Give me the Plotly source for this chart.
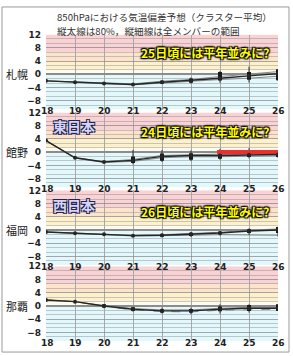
import plotly.graph_objects as go

W, H = 293, 356

dates = [18, 19, 20, 21, 22, 23, 24, 25, 26]
tick_vals = [12, 8, 4, 0, -4, -8]
tick_text = ["12", "8", "4", "0", "−4", "−8"]

stations = ["札幌", "館野", "福岡", "那覇"]

# cluster mean
sapporo_mean = [-2.0, -2.4, -2.8, -3.1, -2.4, -1.9, -1.2, -0.5, 0.2]
tateno_mean = [3.5, -1.7, -3.0, -2.5, -1.3, -1.0, -1.0, -0.8, -0.7]
fukuoka_mean = [-0.6, -1.0, -1.3, -1.7, -1.6, -1.3, -0.9, -0.3, 0.0]
naha_mean = [1.8, 1.3, 0.0, -1.0, -1.5, -1.5, -1.0, -0.7, -0.7]

# 80% range
sapporo_p80_lo = [-2.0, -2.4, -2.8, -3.1, -2.8, -2.6, -1.9, -1.7, -1.8]
sapporo_p80_hi = [-2.0, -2.4, -2.8, -3.1, -2.0, -1.3, 0.7, 0.7, 1.5]
tateno_p80_lo = [3.5, -1.7, -3.0, -3.3, -2.6, -2.3, -2.0, -1.5, -1.5]
tateno_p80_hi = [3.5, -1.7, -3.0, -1.3, -0.4, -0.3, 0.0, -0.1, -0.3]
fukuoka_p80_lo = [-0.6, -1.0, -1.4, -1.9, -2.0, -1.8, -1.3, -0.9, -0.9]
fukuoka_p80_hi = [-0.6, -1.0, -1.2, -1.5, -1.2, -0.8, -0.5, 0.2, 0.9]
naha_p80_lo = [1.8, 1.3, -0.5, -1.5, -2.0, -2.0, -1.6, -1.5, -1.5]
naha_p80_hi = [1.8, 1.3, 0.5, -0.4, -1.0, -0.9, -0.2, 0.3, 0.5]

# full member range
sapporo_lo = [-2.0, -2.5, -2.9, -3.2, -2.9, -2.8, -2.6, -2.5, -2.0]
sapporo_hi = [-2.0, -2.3, -2.7, -2.9, -1.9, -1.0, 1.0, 2.3, 1.6]
tateno_lo = [3.5, -1.8, -3.1, -3.7, -3.0, -2.7, -2.3, -1.9, -1.7]
tateno_hi = [3.5, -1.6, -2.9, 0.7, 0.7, 0.5, 1.0, 1.2, 0.0]
fukuoka_lo = [-0.6, -1.0, -1.5, -2.1, -2.2, -2.1, -1.7, -1.5, -2.0]
fukuoka_hi = [-0.6, -1.0, -1.1, -1.3, -1.0, -0.6, -0.3, 0.5, 1.0]
naha_lo = [1.8, 1.2, -0.7, -1.7, -2.3, -2.5, -2.3, -2.0, -1.5]
naha_hi = [1.8, 1.4, 0.6, -0.3, -0.5, -0.5, 0.5, 0.5, 0.5]

# a couple of member traces
sapporo_m1 = [-2.0, -2.3, -2.7, -2.9, -2.1, -1.6, -0.7, 0.0, 0.8]
sapporo_m2 = [-2.0, -2.5, -2.9, -3.2, -2.6, -2.2, -1.6, -1.2, -0.6]
tateno_m1 = [3.5, -1.7, -2.9, -2.2, -1.0, -0.8, -0.6, -0.4, -0.5]
tateno_m2 = [3.5, -1.8, -3.1, -2.8, -1.7, -1.4, -1.4, -1.2, -1.1]
fukuoka_m1 = [-0.6, -1.0, -1.2, -1.6, -1.4, -1.1, -0.7, 0.0, 0.3]
fukuoka_m2 = [-0.6, -1.1, -1.4, -1.8, -1.8, -1.6, -1.4, -1.4, -1.6]
naha_m1 = [1.8, 1.3, 0.1, -0.8, -1.2, -1.2, -0.7, -0.4, -0.4]
naha_m2 = [1.8, 1.3, -0.1, -1.2, -1.7, -1.8, -1.3, -1.1, -1.0]

banners = ["25日頃には平年並みに?", "24日頃には平年並みに?", "26日頃には平年並みに?", None]
regions = [None, "東日本", "西日本", None]
title_lines = ["850hPaにおける気温偏差予想（クラスター平均）",
               "縦太線は80%，縦細線は全メンバーの範囲"]

# red "normal" bar in Tateno panel
red_x = [23.9, 26]
red_y = [0, 0]

means = [sapporo_mean, tateno_mean, fukuoka_mean, naha_mean]
p80_lo = [sapporo_p80_lo, tateno_p80_lo, fukuoka_p80_lo, naha_p80_lo]
p80_hi = [sapporo_p80_hi, tateno_p80_hi, fukuoka_p80_hi, naha_p80_hi]
full_lo = [sapporo_lo, tateno_lo, fukuoka_lo, naha_lo]
full_hi = [sapporo_hi, tateno_hi, fukuoka_hi, naha_hi]
mem1 = [sapporo_m1, tateno_m1, fukuoka_m1, naha_m1]
mem2 = [sapporo_m2, tateno_m2, fukuoka_m2, naha_m2]

# layout in pixels
panel_px = [(30, 106), (109, 185), (188, 264), (265, 341)]
x_px = (46, 278)
YMIN, YMAX = -10.67, 12


def py(p):
    return 1 - p / H


def pxf(p):
    return p / W


fig = go.Figure()
layout = dict(width=W, height=H, margin=dict(l=0, r=0, t=0, b=0),
              paper_bgcolor="white", plot_bgcolor="white", showlegend=False)
shapes = []
annotations = []

bands = [(6.67, 12, "#f9d3d3"), (4.0, 6.67, "#fce3cc"), (1.33, 4.0, "#fdf1cc"),
         (0, 1.33, "#fdfaf0"), (YMIN, 0, "#e2f8fb")]

tickfont = dict(family="DejaVu Sans", size=9, color="#222", weight="bold")

for i in range(4):
    xa = "x" if i == 0 else f"x{i+1}"
    ya = "y" if i == 0 else f"y{i+1}"
    top, bot = panel_px[i]
    layout["xaxis" if i == 0 else f"xaxis{i+1}"] = dict(
        domain=[pxf(x_px[0]), pxf(x_px[1])], range=[18, 26], anchor=ya,
        tickvals=dates, showticklabels=False, showgrid=True,
        gridcolor="#a8a8a8", gridwidth=1, zeroline=False, showline=False,
        fixedrange=True)
    layout["yaxis" if i == 0 else f"yaxis{i+1}"] = dict(
        domain=[py(bot), py(top)], range=[YMIN, YMAX], anchor=xa,
        tickvals=tick_vals, ticktext=tick_text, tickfont=tickfont,
        ticklabelstandoff=4,
        showgrid=True, gridcolor="rgba(110,110,120,0.35)", gridwidth=1,
        minor=dict(tick0=0, dtick=4 / 3, showgrid=True,
                   gridcolor="rgba(110,110,120,0.35)", gridwidth=1),
        zeroline=True, zerolinecolor="#8c8c8c", zerolinewidth=2,
        showline=False, fixedrange=True)
    for lo, hi, c in bands:
        shapes.append(dict(type="rect", xref=xa, yref=ya, x0=18, x1=26,
                           y0=lo, y1=hi, fillcolor=c, line_width=0, layer="below"))

    # member lines
    for m, dash in ((mem1[i], "solid"), (mem2[i], "dash" if i == 3 else "solid")):
        fig.add_trace(go.Scatter(x=dates, y=m, mode="lines", xaxis=xa, yaxis=ya,
                                 line=dict(color="#8a8a8a", width=1, dash=dash),
                                 hoverinfo="skip"))
    mean = means[i]
    # full range (thin)
    fig.add_trace(go.Scatter(
        x=dates, y=mean, mode="markers", xaxis=xa, yaxis=ya,
        marker=dict(size=1, color="#222"),
        error_y=dict(type="data", symmetric=False,
                     array=[h - m for h, m in zip(full_hi[i], mean)],
                     arrayminus=[m - l for l, m in zip(full_lo[i], mean)],
                     color="#333", thickness=1, width=0)))
    # 80% range (thick)
    fig.add_trace(go.Scatter(
        x=dates, y=mean, mode="markers", xaxis=xa, yaxis=ya,
        marker=dict(size=1, color="#222"),
        error_y=dict(type="data", symmetric=False,
                     array=[h - m for h, m in zip(p80_hi[i], mean)],
                     arrayminus=[m - l for l, m in zip(p80_lo[i], mean)],
                     color="#1a1a1a", thickness=4, width=0)))
    if i == 1:
        fig.add_trace(go.Scatter(x=red_x, y=red_y, mode="lines", xaxis=xa, yaxis=ya,
                                 line=dict(color="#e83030", width=4.5)))
    fig.add_trace(go.Scatter(x=dates, y=mean, mode="lines+markers", xaxis=xa, yaxis=ya,
                             line=dict(color="#262626", width=1.4),
                             marker=dict(size=4, color="#262626")))

    # x tick labels (sit on the panel's bottom edge)
    for d in dates:
        annotations.append(dict(x=d, xref=xa, y=py(bot + 2), yref="paper",
                                text=str(d), showarrow=False, xanchor="center",
                                xshift=1 if d == 18 else 0,
                                yanchor="middle", font=tickfont))
    # station label
    annotations.append(dict(x=pxf(17), y=py(top + 40), xref="paper", yref="paper",
                            text=stations[i], showarrow=False, xanchor="center",
                            yanchor="middle",
                            font=dict(family="Noto Sans CJK JP", size=11, color="#222")))
    if banners[i]:
        by = [48, 128, 209][i]
        annotations.append(dict(x=pxf(271), y=py(by), xref="paper", yref="paper",
                                text=banners[i], showarrow=False, xanchor="right",
                                yanchor="middle",
                                font=dict(family="Noto Sans CJK JP", size=12,
                                          color="#ffff00", weight="bold",
                                          shadow="1px 1px 1px #000, -1px -1px 1px #000, 1px -1px 1px #000, -1px 1px 1px #000, 0 0 3px #000")))
    if regions[i]:
        ry = [0, 123, 203][i]
        annotations.append(dict(x=pxf(51), y=py(ry), xref="paper", yref="paper",
                                text=regions[i], showarrow=False, xanchor="left",
                                yanchor="middle",
                                font=dict(family="Noto Sans CJK JP", size=14,
                                          color="#d4d4fa", weight="bold",
                                          shadow="1px 1px 0 #22224a, -1px -1px 0 #22224a, 1px -1px 0 #22224a, -1px 1px 0 #22224a")))

# title lines
for t, ty in zip(title_lines, [12, 26]):
    annotations.append(dict(x=pxf(55), y=py(ty), xref="paper", yref="paper",
                            text=t, showarrow=False, xanchor="left", yanchor="middle",
                            font=dict(family="Noto Sans CJK JP", size=9.6, color="#333")))

# outer frame
shapes.append(dict(type="rect", xref="paper", yref="paper", x0=pxf(2), x1=pxf(289),
                   y0=py(352), y1=py(2), line=dict(color="#9a9a9a", width=1),
                   fillcolor="rgba(0,0,0,0)", layer="above"))

layout["shapes"] = shapes
layout["annotations"] = annotations
fig.update_layout(**layout)
fig.write_html("out.html")
